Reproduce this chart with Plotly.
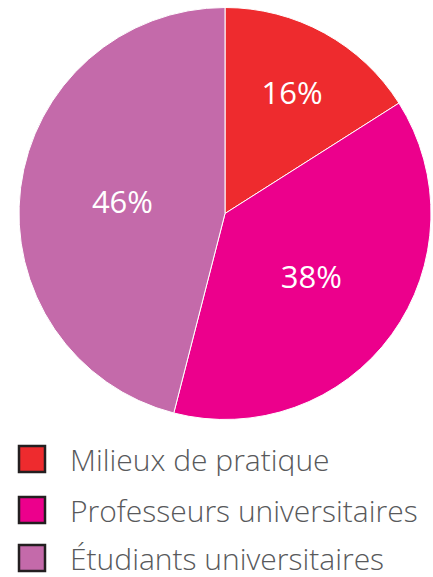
import plotly.graph_objects as go

labels = ["Milieux de pratique", "Professeurs universitaires", "Étudiants universitaires"]
values = [16, 38, 46]
colors = ["#EE2B2E", "#EC008C", "#C46AAA"]

W, H = 433, 577

fig = go.Figure(go.Pie(
    labels=labels,
    values=values,
    sort=False,
    direction="clockwise",
    rotation=0,
    marker=dict(colors=colors, line=dict(color="white", width=1)),
    texttemplate="%{value}%",
    textposition="inside",
    insidetextorientation="horizontal",
    textfont=dict(family="Open Sans", size=31, color="white"),
    hoverinfo="label+percent",
    domain=dict(x=[19 / W, 431 / W], y=[1 - 420 / H, 1 - 7 / H]),
    showlegend=False,
))

# custom legend built from labels/colors
row_y = [459, 510, 558]
shapes = []
annotations = []
for i, (lab, col) in enumerate(zip(labels, colors)):
    yc = row_y[i]
    shapes.append(dict(type="rect", xref="paper", yref="paper",
                       x0=19 / W, x1=45 / W,
                       y0=1 - (yc + 13) / H, y1=1 - (yc - 13) / H,
                       fillcolor=col, line=dict(color="#231F20", width=2.5)))
    annotations.append(dict(xref="paper", yref="paper", x=69 / W, y=1 - yc / H,
                            xanchor="left", yanchor="middle", showarrow=False,
                            text=lab, height=34, borderpad=0,
                            font=dict(family="Open Sans", size=30, color="#58595B", weight=300)))

fig.update_layout(
    width=W, height=H,
    margin=dict(l=0, r=0, t=0, b=0),
    paper_bgcolor="white",
    plot_bgcolor="white",
    shapes=shapes,
    annotations=annotations,
)

fig.write_html("out.html",
               config={"displayModeBar": False},
               post_script="document.body.style.margin='0';document.body.style.padding='0';")
